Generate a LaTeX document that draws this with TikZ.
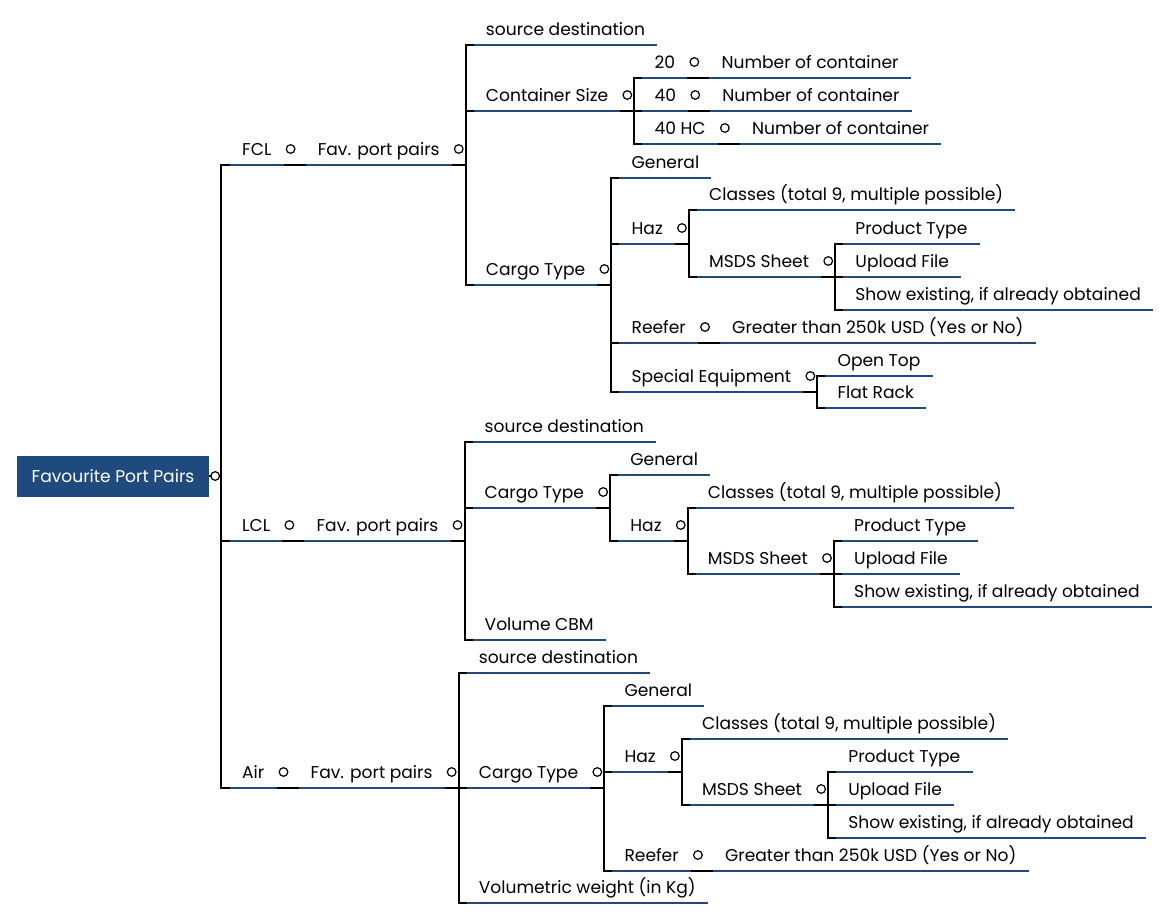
\documentclass[tikz,border=0pt]{standalone}
\usepackage{fontspec}
\setmainfont{Poppins}
\usetikzlibrary{calc}
\definecolor{mapblue}{RGB}{31,74,126}
\tikzset{
  topic/.style={anchor=south west, inner xsep=12pt, inner ysep=0pt, text depth=9pt,
    font=\fontsize{17.1}{20}\selectfont,
    append after command={(\tikzlastnode.south west) edge[uline] (\tikzlastnode.south east)}},
  uline/.style={line width=2pt, color=mapblue},
  conn/.style={line width=2pt, color=black},
  knob/.style={line width=1.2pt, fill=white},
  root/.style={fill=mapblue, text=white, minimum width=192pt, minimum height=41pt,
    inner sep=0pt, font=\fontsize{17.1}{20}\selectfont},
}
% child topic at underline height #3, hung on parent #1
\def\kid(#1)(#2)#3#4{%
  \node[topic] (#2) at ([xshift=22pt]#1.south east |- 0,#3) {#4};
  \draw[conn] (#1.south east) -- ++(14,0) |- (#2.south west);}
\def\knob(#1){\draw[knob] ([shift={(7,-16)}]#1.south east) circle (4.3pt);}

\begin{document}
\begin{tikzpicture}[x=1pt, y=-1pt]
  %%%%% START %%%%%
  \useasboundingbox (0,0) rectangle (1166,920);

  \node[root] (root) at (113,476) {Favourite Port Pairs};

  \node[topic] (fcl) at (230,165) {FCL};
  \node[topic] (lcl) at (230,541) {LCL};
  \node[topic] (air) at (230,788) {Air};
  \foreach \t in {fcl,lcl,air}
    \draw[conn] (root.east) -- ++(12,0) |- (\t.south west);

  % FCL
  \kid(fcl)(fclfav){165}{Fav. port pairs}
  \kid(fclfav)(fclsd){45}{source destination}
  \kid(fclfav)(fclcs){111}{Container Size}
  \kid(fclfav)(fclct){285}{Cargo Type}
  \kid(fclcs)(fcla){78}{20}
  \kid(fclcs)(fclb){111}{40}
  \kid(fclcs)(fclc){144}{40 HC}
  \kid(fcla)(fclan){78}{Number of container}
  \kid(fclb)(fclbn){111}{Number of container}
  \kid(fclc)(fclcn){144}{Number of container}
  \kid(fclct)(fclgen){178}{General}
  \kid(fclct)(fclhaz){244}{Haz}
  \kid(fclct)(fclref){343}{Reefer}
  \kid(fclct)(fclsp){392}{Special Equipment}
  \kid(fclhaz)(fclcls){210}{Classes (total 9, multiple possible)}
  \kid(fclhaz)(fclmsds){277}{MSDS Sheet}
  \kid(fclmsds)(fclpt){244}{Product Type}
  \kid(fclmsds)(fclup){277}{Upload File}
  \kid(fclmsds)(fclse){310}{Show existing, if already obtained}
  \kid(fclref)(fclrefg){343}{Greater than 250k USD (Yes or No)}
  \kid(fclsp)(fclot){376}{Open Top}
  \kid(fclsp)(fclfr){408}{Flat Rack}

  % LCL
  \kid(lcl)(lclfav){541}{Fav. port pairs}
  \kid(lclfav)(lclsd){442}{source destination}
  \kid(lclfav)(lclct){508}{Cargo Type}
  \kid(lclfav)(lclvol){640}{Volume CBM}
  \kid(lclct)(lclgen){475}{General}
  \kid(lclct)(lclhaz){541}{Haz}
  \kid(lclhaz)(lclcls){508}{Classes (total 9, multiple possible)}
  \kid(lclhaz)(lclmsds){574}{MSDS Sheet}
  \kid(lclmsds)(lclpt){541}{Product Type}
  \kid(lclmsds)(lclup){574}{Upload File}
  \kid(lclmsds)(lclse){607}{Show existing, if already obtained}

  % Air
  \kid(air)(airfav){788}{Fav. port pairs}
  \kid(airfav)(airsd){673}{source destination}
  \kid(airfav)(airct){788}{Cargo Type}
  \kid(airfav)(airvol){903}{Volumetric weight (in Kg)}
  \kid(airct)(airgen){706}{General}
  \kid(airct)(airhaz){772}{Haz}
  \kid(airct)(airref){871}{Reefer}
  \kid(airhaz)(aircls){739}{Classes (total 9, multiple possible)}
  \kid(airhaz)(airmsds){805}{MSDS Sheet}
  \kid(airmsds)(airpt){772}{Product Type}
  \kid(airmsds)(airup){805}{Upload File}
  \kid(airmsds)(airse){838}{Show existing, if already obtained}
  \kid(airref)(airrefg){871}{Greater than 250k USD (Yes or No)}

  % collapse knobs
  \draw[knob] ([xshift=6pt]root.east) circle (4.3pt);
  \foreach \p in {fcl,fclfav,fclcs,fcla,fclb,fclc,fclct,fclhaz,fclmsds,fclref,fclsp,
                  lcl,lclfav,lclct,lclhaz,lclmsds,
                  air,airfav,airct,airhaz,airmsds,airref}
    {\knob(\p)}
  %%%%% END %%%%%
\end{tikzpicture}
\end{document}
